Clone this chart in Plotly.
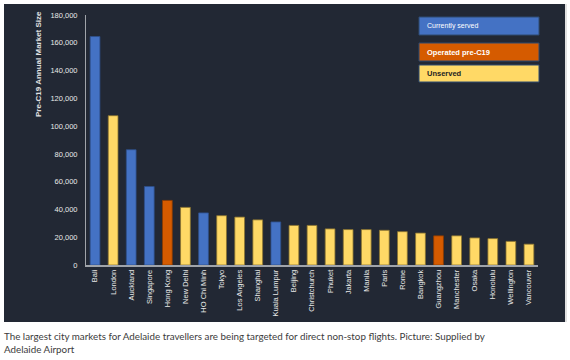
import plotly.graph_objects as go

cities = ["Bali", "London", "Auckland", "Singapore", "Hong Kong", "New Delhi", "HO Chi Minh",
          "Tokyo", "Los Angeles", "Shanghai", "Kuala Lumpur", "Beijing", "Christchurch",
          "Phuket", "Jakarta", "Manila", "Paris", "Rome", "Bangkok", "Guangzhou",
          "Manchester", "Osaka", "Honolulu", "Wellington", "Vancouver"]
market_size = [164500, 107500, 83000, 56500, 46500, 41500, 37500, 35500, 34500, 32500,
               31000, 28500, 28500, 26000, 25500, 25500, 25000, 24000, 23000, 21000,
               21000, 19500, 19000, 17000, 15000]
status = ["served", "unserved", "served", "served", "pre", "unserved", "served",
          "unserved", "unserved", "unserved", "served", "unserved", "unserved",
          "unserved", "unserved", "unserved", "unserved", "unserved", "unserved", "pre",
          "unserved", "unserved", "unserved", "unserved", "unserved"]
legend_labels = ["Currently served", "Operated pre-C19", "Unserved"]
legend_keys = ["served", "pre", "unserved"]
y_ticks = [0, 20000, 40000, 60000, 80000, 100000, 120000, 140000, 160000, 180000]

colors = {"served": "#4472C4", "pre": "#D55B00", "unserved": "#FFD966"}
edges = {"served": "#2F4F8A", "pre": "#8A3B00", "unserved": "#8A7430"}
BG = "#222834"

W, H = 570, 360
L, R, T, B = 86, 538, 15, 265


def px_x(px):
    return (px - L) / (R - L)


def px_y(py):
    return (B - py) / (B - T)


fig = go.Figure()
fig.add_trace(go.Bar(
    x=cities, y=market_size,
    marker=dict(color=[colors[s] for s in status],
                line=dict(color=[edges[s] for s in status], width=0.8)),
    width=0.54, hoverinfo="x+y", showlegend=False,
))

shapes = [dict(type="rect", xref="paper", yref="paper", layer="below",
               x0=px_x(4), x1=px_x(565), y0=px_y(322), y1=px_y(4),
               fillcolor=BG, line=dict(width=0)),
          dict(type="line", xref="paper", yref="paper",
               x0=px_x(566), x1=px_x(566), y0=px_y(322), y1=px_y(4),
               line=dict(color="#D8D8D8", width=1.5))]
annotations = []
boxes = [(17, 35), (43, 61), (65, 82)]
for (y0, y1), key, lab in zip(boxes, legend_keys, legend_labels):
    shapes.append(dict(type="rect", xref="paper", yref="paper",
                       x0=px_x(419), x1=px_x(539), y0=px_y(y1), y1=px_y(y0),
                       fillcolor=colors[key], line=dict(color="#2E4A70", width=1)))
    annotations.append(dict(xref="paper", yref="paper", x=px_x(425), y=px_y((y0 + y1) / 2),
                            xanchor="left", yanchor="middle", showarrow=False,
                            text=f"<b>{lab}</b>" if key != "served" else lab,
                            font=dict(size=7.5 if key != "served" else 7,
                                      color="#222222" if key == "unserved" else "#FFFFFF",
                                      family="Liberation Sans")))

annotations.append(dict(xref="paper", yref="paper", x=px_x(39), y=px_y(9),
                        xanchor="center", yanchor="top", textangle=-90, showarrow=False,
                        text="<b>Pre-C19 Annual Market Size</b>",
                        font=dict(size=8, color="#E0E0E0", family="Liberation Sans")))
annotations.append(dict(xref="paper", yref="paper", x=px_x(2), y=px_y(328),
                        xanchor="left", yanchor="top", align="left", showarrow=False,
                        text="The largest city markets for Adelaide travellers are being targeted for direct non-stop flights. Picture: Supplied by<br>Adelaide Airport",
                        font=dict(size=9.8, color="#3C3C3C", family="Lato")))

fig.update_layout(
    width=W, height=H,
    margin=dict(l=L, r=W - R, t=T, b=H - B),
    paper_bgcolor="white", plot_bgcolor=BG,
    shapes=shapes, annotations=annotations,
    xaxis=dict(tickangle=-90, showgrid=False, showline=True, linecolor="#A0A4AA", linewidth=1.5,
               ticks="", tickfont=dict(size=7.5, color="#E8E8E8", family="Liberation Sans"),
               range=[-0.5, len(cities) - 0.5], fixedrange=True),
    yaxis=dict(range=[0, 180000], tickvals=y_ticks,
               ticktext=[f"{v:,}" for v in y_ticks], showgrid=False, zeroline=False,
               showline=True, linecolor="#A0A4AA", linewidth=1, ticks="",
               tickfont=dict(size=7.5, color="#E8E8E8", family="Liberation Sans"),
               ticklabelstandoff=6, fixedrange=True),
)

fig.write_html("out.html", config={"displayModeBar": False},
               post_script="document.body.style.margin='0';")
